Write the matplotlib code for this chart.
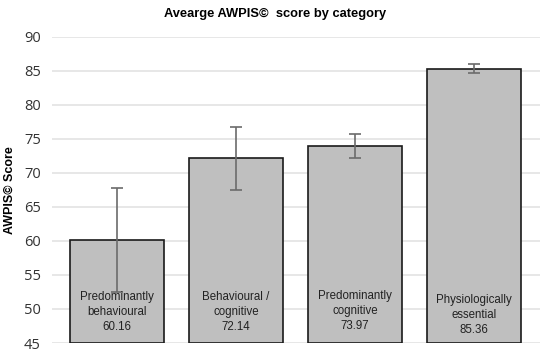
import matplotlib
matplotlib.use("Agg")
import matplotlib.pyplot as plt

categories = ["Predominantly\nbehavioural", "Behavioural /\ncognitive", "Predominantly\ncognitive", "Physiologically\nessential"]
means = [60.16, 72.14, 73.97, 85.36]
errors = [7.7, 4.6, 1.75, 0.65]
label_y = [49.56, 49.56, 49.7, 49.1]
yticks = [45, 50, 55, 60, 65, 70, 75, 80, 85, 90]

fig = plt.figure(figsize=(5.5, 3.55), dpi=100)
ax = fig.add_axes([0.0945, 0.0338, 0.8873, 0.862])

x = list(range(len(categories)))
ax.bar(x, [m - 45 for m in means], bottom=45, width=0.79, color="#bfbfbf",
       edgecolor="#1a1a1a", linewidth=1.2, zorder=2)
ax.errorbar(x, means, yerr=errors, fmt="none", ecolor="#6b6b6b", elinewidth=1.2,
            capsize=4, capthick=1.2, zorder=3)

for xi, cat, m, ly in zip(x, categories, means, label_y):
    ax.text(xi, ly, f"{cat}\n{m:.2f}", ha="center", va="center", fontsize=8.3,
            family="Liberation Sans", color="#222222", linespacing=1.3, zorder=4)

ax.set_ylim(45, 90)
ax.set_xlim(-0.546, 3.555)
ax.set_yticks(yticks)
ax.set_xticks([])
ax.tick_params(axis="y", length=0, pad=8, labelsize=10.5, labelcolor="#333333")
for lab in ax.get_yticklabels():
    lab.set_family("Open Sans")
ax.grid(axis="y", color="#e0e0e0", linewidth=1.1, zorder=0)
ax.set_axisbelow(True)
for s in ax.spines.values():
    s.set_visible(False)

ax.set_ylabel("AWPIS© Score", fontsize=9, fontweight="bold", family="Liberation Sans",
              labelpad=6)
fig.text(0.5, 0.960, "Avearge AWPIS©  score by category", ha="center", va="center",
         fontsize=9.3, fontweight="bold", family="Liberation Sans")

fig.savefig("out.png", dpi=100)
